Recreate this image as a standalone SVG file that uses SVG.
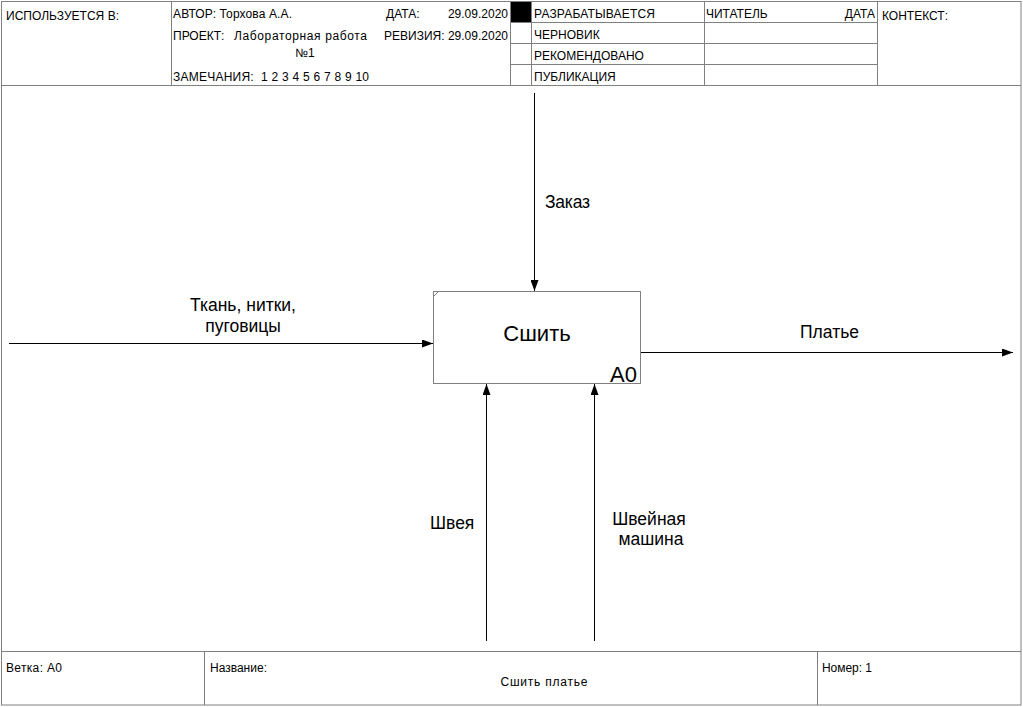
<svg xmlns="http://www.w3.org/2000/svg" width="1023" height="707" viewBox="0 0 1023 707">
<style>
.ln{stroke:#000;stroke-width:1;fill:none}
.fr{stroke:#808080;stroke-width:1;fill:none}
.t{font-family:"Liberation Sans",Arial,sans-serif;font-size:12px;fill:#000}
.lb{font-family:"Liberation Sans",Arial,sans-serif;font-size:17.5px;fill:#000}
.arr{stroke:#000;stroke-width:1;fill:none;marker-end:url(#ah)}
</style>
<defs>
<marker id="ah" markerWidth="11" markerHeight="8" refX="11" refY="4" orient="auto" markerUnits="userSpaceOnUse">
<path d="M0,0 L11,4 L0,8 Z" fill="#000"/>
</marker>
</defs>
<rect width="1023" height="707" fill="#fff"/>
<g id="frame">
<rect x="1.5" y="1.5" width="1019.5" height="703.5" class="fr"/>
<line x1="1" y1="85.5" x2="1021" y2="85.5" class="fr"/>
<line x1="171.5" y1="1" x2="171.5" y2="85" class="fr"/>
<line x1="510.5" y1="1" x2="510.5" y2="85" class="fr"/>
<line x1="531.5" y1="1" x2="531.5" y2="85" class="fr"/>
<line x1="704.5" y1="1" x2="704.5" y2="85" class="fr"/>
<line x1="877.5" y1="1" x2="877.5" y2="85" class="fr"/>
<line x1="510" y1="22.5" x2="877" y2="22.5" class="fr"/>
<line x1="510" y1="43.5" x2="877" y2="43.5" class="fr"/>
<line x1="510" y1="64.5" x2="877" y2="64.5" class="fr"/>
<rect x="511" y="2" width="20" height="20" fill="#000"/>
<line x1="1" y1="651.5" x2="1021" y2="651.5" class="fr"/>
<line x1="204.5" y1="651" x2="204.5" y2="705" class="fr"/>
<line x1="817.5" y1="651" x2="817.5" y2="705" class="fr"/>
</g>
<g id="header-text">
<text x="6" y="20" class="t" textLength="113">ИСПОЛЬЗУЕТСЯ В:</text>
<text x="173" y="18" class="t" textLength="119">АВТОР: Торхова А.А.</text>
<text x="386" y="18" class="t">ДАТА:</text>
<text x="508" y="18" class="t" text-anchor="end">29.09.2020</text>
<text x="173" y="40" class="t">ПРОЕКТ:</text>
<text x="234" y="40" class="t" textLength="133">Лабораторная работа</text>
<text x="305" y="57" class="t" text-anchor="middle">№1</text>
<text x="508" y="40" class="t" text-anchor="end">РЕВИЗИЯ: 29.09.2020</text>
<text x="173" y="81" class="t" textLength="196" xml:space="preserve">ЗАМЕЧАНИЯ:  1 2 3 4 5 6 7 8 9 10</text>
<text x="534" y="18" class="t" textLength="121">РАЗРАБАТЫВАЕТСЯ</text>
<text x="534" y="39" class="t">ЧЕРНОВИК</text>
<text x="534" y="60" class="t">РЕКОМЕНДОВАНО</text>
<text x="534" y="81" class="t">ПУБЛИКАЦИЯ</text>
<text x="706" y="18" class="t">ЧИТАТЕЛЬ</text>
<text x="875" y="18" class="t" text-anchor="end">ДАТА</text>
<text x="882" y="20" class="t">КОНТЕКСТ:</text>
</g>
<g id="node-A0">
<rect x="433.5" y="291.5" width="207" height="92" fill="#fff" stroke="#808080" stroke-width="1"/>
<line x1="434" y1="296" x2="438" y2="292" stroke="#808080" stroke-width="1"/>
<text x="537" y="341" font-family="Liberation Sans,Arial,sans-serif" font-size="22" text-anchor="middle">Сшить</text>
<text x="637" y="382" font-family="Liberation Sans,Arial,sans-serif" font-size="22" text-anchor="end">A0</text>
</g>
<g id="connectors">
<line x1="534.5" y1="93" x2="534.5" y2="291" class="arr"/>
<line x1="9" y1="343.5" x2="433" y2="343.5" class="arr"/>
<line x1="641" y1="352.5" x2="1013" y2="352.5" class="arr"/>
<line x1="486.5" y1="641" x2="486.5" y2="384" class="arr"/>
<line x1="594.5" y1="641" x2="594.5" y2="384" class="arr"/>
</g>
<g id="labels">
<text x="545" y="208" class="lb" textLength="45">Заказ</text>
<text x="243" y="311" class="lb" text-anchor="middle">Ткань, нитки,</text>
<text x="243" y="332" class="lb" text-anchor="middle">пуговицы</text>
<text x="800" y="338" class="lb">Платье</text>
<text x="430" y="529" class="lb">Швея</text>
<text x="649" y="525" class="lb" text-anchor="middle">Швейная</text>
<text x="651" y="545" class="lb" text-anchor="middle">машина</text>
</g>
<g id="footer-text">
<text x="6" y="672" class="t" textLength="56">Ветка: A0</text>
<text x="210" y="672" class="t">Название:</text>
<text x="544" y="686" class="t" text-anchor="middle" textLength="87">Сшить платье</text>
<text x="822" y="672" class="t" textLength="50">Номер: 1</text>
</g>
</svg>
